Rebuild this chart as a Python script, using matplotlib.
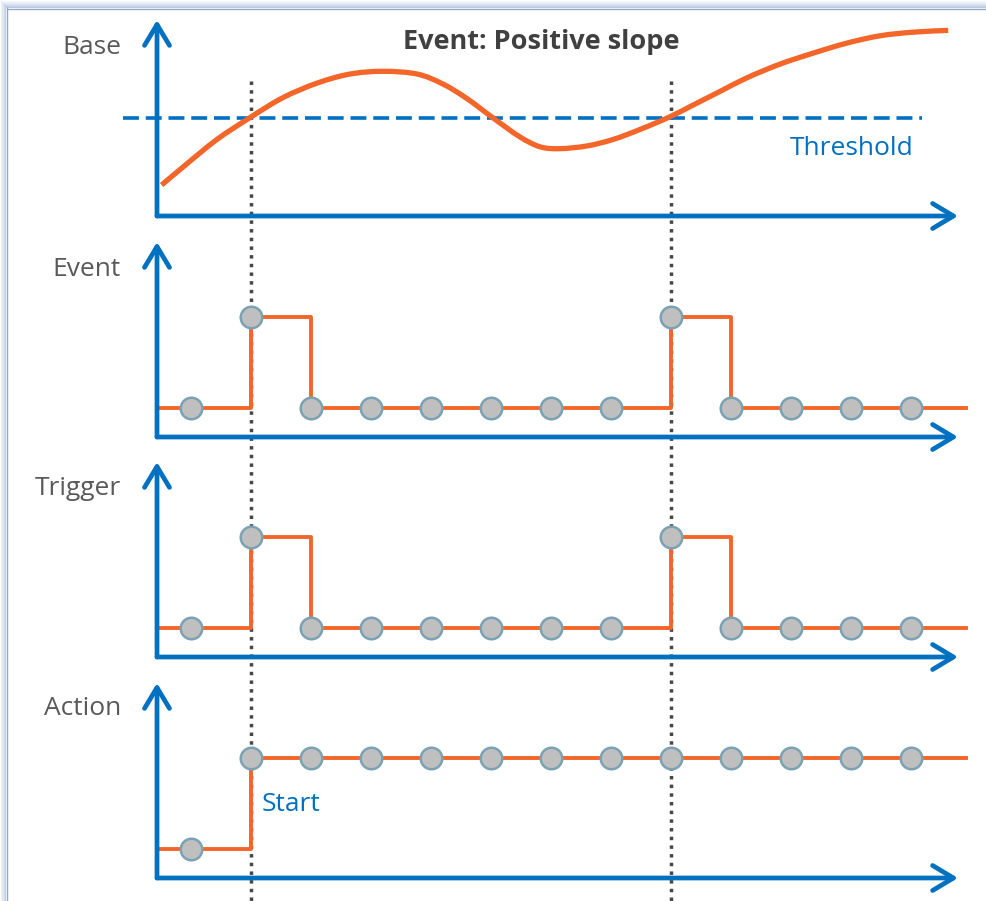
import matplotlib
matplotlib.use("Agg")
import matplotlib.pyplot as plt
from matplotlib.lines import Line2D
from matplotlib.path import Path
from matplotlib.patches import PathPatch
from matplotlib.transforms import blended_transform_factory

# ---------------- data ----------------
samples = list(range(13))
event_values = [0, 1, 0, 0, 0, 0, 0, 0, 1, 0, 0, 0, 0]
trigger_values = [0, 1, 0, 0, 0, 0, 0, 0, 1, 0, 0, 0, 0]
action_values = [0, 1, 1, 1, 1, 1, 1, 1, 1, 1, 1, 1, 1]
event_samples = [1, 8]

base_x = [-0.49, -0.13, 0.43, 0.98, 1.53, 2.10, 2.65, 3.20, 3.77, 4.20, 4.60,
          5.03, 5.48, 5.82, 6.15, 6.60, 7.03, 7.48, 7.98, 8.37, 8.82, 9.27,
          9.82, 10.37, 10.93, 11.48, 12.03, 12.62]
base_y = [0.34, 0.54, 0.84, 1.08, 1.30, 1.46, 1.56, 1.59, 1.56, 1.45, 1.29,
          1.08, 0.87, 0.76, 0.74, 0.77, 0.84, 0.95, 1.09, 1.22, 1.37, 1.52,
          1.67, 1.79, 1.90, 1.98, 2.02, 2.04]
threshold = 1.08

panel_labels = ["Base", "Event", "Trigger", "Action"]
title_text = "Event: Positive slope"
threshold_label = "Threshold"
start_label = "Start"

# ---------------- style ----------------
plt.rcParams['font.family'] = ['Open Sans', 'DejaVu Sans']
BLUE = '#0070C0'
ORANGE = '#F4652A'
GRAY_TXT = '#595959'
DARK_TXT = '#404040'
MARK_FACE = '#BFBFBF'
MARK_EDGE = '#7BA2B3'

W, H = 987, 901
fig = plt.figure(figsize=(W / 100, H / 100), dpi=100)
fig.patch.set_facecolor('white')

def fx(px):
    return px / W

def fy(py):
    return 1 - py / H

X_LEFT, X_RIGHT = 157, 958
XLIM = ((X_LEFT - 191) / 60.0, (X_RIGHT - 191) / 60.0)
X_END = (966 - 191) / 60.0

def make_axes(top, bottom, ylim):
    ax = fig.add_axes([fx(X_LEFT), fy(bottom), (X_RIGHT - X_LEFT) / W, (bottom - top) / H])
    ax.set_xlim(*XLIM)
    ax.set_ylim(*ylim)
    ax.axis('off')
    kw = dict(arrowstyle='->,head_length=0.75,head_width=0.45', color=BLUE, lw=3.4,
              shrinkA=0, shrinkB=0, mutation_scale=20, capstyle='round', joinstyle='round')
    ax.annotate('', xy=(0, 1), xytext=(0, 0), xycoords='axes fraction',
                arrowprops=kw, annotation_clip=False, zorder=4)
    ax.annotate('', xy=(1, 0), xytext=(0, 0), xycoords='axes fraction',
                arrowprops=kw, annotation_clip=False, zorder=4)
    return ax

ax_base = make_axes(20, 216, (0, 2.154))
step_ylim = (-0.32, 1.82)
ax_event = make_axes(242, 437, step_ylim)
ax_trig = make_axes(462, 657, step_ylim)
ax_act = make_axes(683, 878, step_ylim)

# base curve drawn as a smooth path through the read points
def smooth_path(xs, ys):
    pts = list(zip(xs, ys))
    verts = [pts[0]]
    codes = [Path.MOVETO]
    n = len(pts)
    for i in range(n - 1):
        p0 = pts[i - 1] if i > 0 else pts[i]
        p1 = pts[i]
        p2 = pts[i + 1]
        p3 = pts[i + 2] if i + 2 < n else pts[i + 1]
        c1 = (p1[0] + (p2[0] - p0[0]) / 6.0, p1[1] + (p2[1] - p0[1]) / 6.0)
        c2 = (p2[0] - (p3[0] - p1[0]) / 6.0, p2[1] - (p3[1] - p1[1]) / 6.0)
        verts += [c1, c2, p2]
        codes += [Path.CURVE4, Path.CURVE4, Path.CURVE4]
    return Path(verts, codes)

curve = PathPatch(smooth_path(base_x, base_y), facecolor='none', edgecolor=ORANGE,
                  lw=3.8, capstyle='butt', clip_on=False, zorder=3)
ax_base.add_patch(curve)
ax_base.plot([(123 - 191) / 60.0, (922 - 191) / 60.0], [threshold, threshold],
             color=BLUE, lw=2.6, linestyle=(0, (4.4, 1.9)), clip_on=False, zorder=2)

# step panels
def draw_steps(ax, vals):
    xs = [XLIM[0]] + samples + [X_END]
    ys = [vals[0]] + vals + [vals[-1]]
    ax.plot(xs, ys, drawstyle='steps-post', color=ORANGE, lw=2.8,
            clip_on=False, zorder=3)
    ax.plot(samples, vals, linestyle='none', marker='o', markersize=15.5,
            markerfacecolor=MARK_FACE, markeredgecolor=MARK_EDGE,
            markeredgewidth=1.8, clip_on=False, zorder=5)

draw_steps(ax_event, event_values)
draw_steps(ax_trig, trigger_values)
draw_steps(ax_act, action_values)

# dotted event markers spanning all panels
trans = blended_transform_factory(ax_base.transData, fig.transFigure)
for s in event_samples:
    ax_base.plot([s, s], [fy(81), 0], transform=trans, color='#474747', lw=2.5,
                 linestyle=(0, (1, 1.5)), clip_on=False, zorder=1)

# texts
label_baselines = [54, 276, 495, 715]
for lab, yb in zip(panel_labels, label_baselines):
    fig.text(fx(121), fy(yb), lab, ha='right', va='baseline', fontsize=19, color=GRAY_TXT)

fig.text(fx(541), fy(49), title_text, ha='center', va='baseline', fontsize=19.5,
         fontweight='bold', color=DARK_TXT)
fig.text(fx(790), fy(155), threshold_label, ha='left', va='baseline', fontsize=19, color=BLUE)
fig.text(fx(262), fy(811), start_label, ha='left', va='baseline', fontsize=19, color=BLUE)

# frame with soft shadow on the left and top
shadow = ['#F4F7FB', '#EEF2F8', '#E6ECF5', '#DDE5F1', '#D2DCEC', '#C6D3E7', '#B8C8E1']
for i, c in enumerate(shadow):
    off = i
    fig.add_artist(Line2D([fx(off + 0.5), fx(off + 0.5)], [fy(off), 0], color=c, lw=0.75))
    fig.add_artist(Line2D([fx(off), 1], [fy(off + 0.5), fy(off + 0.5)], color=c, lw=0.75))
fig.add_artist(Line2D([fx(7.5), fx(7.5)], [fy(8), 0], color='#93A8CC', lw=1.0))
fig.add_artist(Line2D([fx(7), 1], [fy(8.5), fy(8.5)], color='#93A8CC', lw=1.0))

fig.savefig('out.png', dpi=100, facecolor='white')
